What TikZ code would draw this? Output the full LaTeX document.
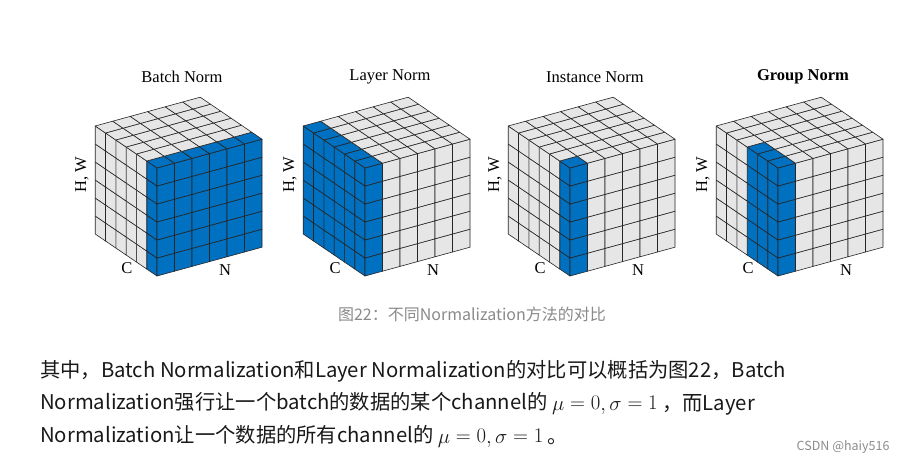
\documentclass[tikz,border=0pt]{standalone}
\usepackage{fontspec}
\setmainfont{Liberation Serif}
\newfontfamily\cjk{Noto Sans CJK SC}
\definecolor{bl}{HTML}{0070C0}
\definecolor{gr}{HTML}{E6E6E6}
\definecolor{capgray}{HTML}{8A8A8A}
\tikzset{cell/.style={draw=black!85,line width=0.6pt,line join=round},
 axl/.style={font=\fontsize{16.5}{18}\selectfont}}
\newcommand\drawcube[7]{%
 \begin{scope}[shift={(#1,#2)}]
 \foreach \c in {0,...,5}{\foreach \h in {0,...,5}{
   \ifnum\c<#3 \def\fc{bl}\else\def\fc{gr}\fi
   \filldraw[cell,fill=\fc] ({-10.3*\c},{7*\c+18*\h}) -- ({-10.3*(\c+1)},{7*(\c+1)+18*\h}) -- ({-10.3*(\c+1)},{7*(\c+1)+18*(\h+1)}) -- ({-10.3*\c},{7*\c+18*(\h+1)}) -- cycle;
 }}
 \foreach \n in {0,...,5}{\foreach \h in {0,...,5}{
   \ifnum\n<#4 \def\fc{bl}\else\def\fc{gr}\fi
   \filldraw[cell,fill=\fc] ({17.5*\n},{4.8*\n+18*\h}) -- ({17.5*(\n+1)},{4.8*(\n+1)+18*\h}) -- ({17.5*(\n+1)},{4.8*(\n+1)+18*(\h+1)}) -- ({17.5*\n},{4.8*\n+18*(\h+1)}) -- cycle;
 }}
 \foreach \c in {0,...,5}{\foreach \n in {0,...,5}{
   \def\fc{gr}
   \ifnum\c<#3 \ifnum\n<#4 \def\fc{bl}\fi\fi
   \filldraw[cell,fill=\fc] ({-10.3*\c+17.5*\n},{108+7*\c+4.8*\n}) -- ({-10.3*(\c+1)+17.5*\n},{108+7*(\c+1)+4.8*\n}) -- ({-10.3*(\c+1)+17.5*(\n+1)},{108+7*(\c+1)+4.8*(\n+1)}) -- ({-10.3*\c+17.5*(\n+1)},{108+7*\c+4.8*(\n+1)}) -- cycle;
 }}
 \node[font=\fontsize{16.5}{18}\selectfont#6] (#7t) at (25,199) {#5};
 \node[axl,rotate=90] (#7hw) at (-75,101) {H, W};
 \node[axl] (#7c) at (-30,8) {C};
 \node[axl] (#7n) at (68,6) {N};
 \end{scope}}
\begin{document}
\begin{tikzpicture}[x=1pt,y=1pt]
\useasboundingbox[fill=white] (0,0) rectangle (898,464);
\drawcube{157}{188}{1}{6}{Batch Norm}{}{b}
\drawcube{365}{188}{6}{1}{Layer Norm}{}{l}
\drawcube{570}{188}{1}{1}{Instance Norm}{}{i}
\drawcube{778}{188}{3}{1}{Group Norm}{\bfseries}{g}
\node[font=\cjk\fontsize{16}{18}\selectfont,text=capgray] (cap) at (472,150) {图22：不同Normalization方法的对比};
\begin{scope}[every node/.style={anchor=base west,inner sep=0pt,font=\cjk\fontsize{20.3}{24}\selectfont,text=black!90}]
\node (l1) at (40,86) {其中，Batch Normalization和Layer Normalization的对比可以概括为图22，Batch};
\node (l2) at (40,54) {Normalization强行让一个batch的数据的某个channel的 $\mu=0,\sigma=1$ ，而Layer};
\node (l3) at (40,21) {Normalization让一个数据的所有channel的 $\mu=0,\sigma=1$ 。};
\end{scope}
\node[font=\cjk\fontsize{12.5}{14}\selectfont,text=black!45,anchor=east] (wm) at (893,17) {CSDN @haiy516};
\end{tikzpicture}
\end{document}
